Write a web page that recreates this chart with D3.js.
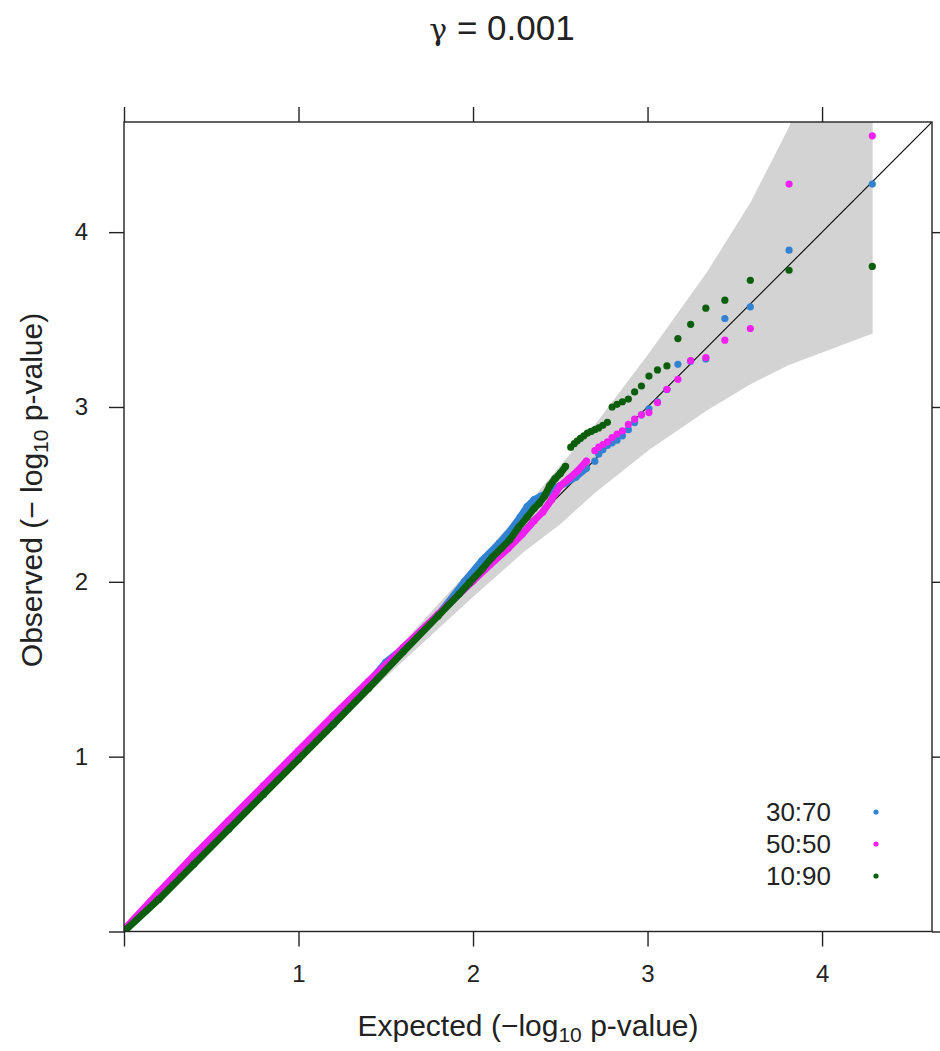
<!DOCTYPE html>
<html>
<head>
<meta charset="utf-8">
<script src="https://cdn.jsdelivr.net/npm/d3@7"></script>
<style>
  html, body { margin: 0; padding: 0; background: #fff; }
  svg { display: block; }
  text { font-family: "Liberation Sans", Arial, sans-serif; fill: #222; }
</style>
</head>
<body>
<svg id="chart" width="940" height="1051"></svg>
<script>
// ---------------- data ----------------
const titleText = "0.001";
const xTicks = [0, 1, 2, 3, 4];
const yTicks = [0, 1, 2, 3, 4];
const tickLabels = ["", "1", "2", "3", "4"];
const seriesNames = ["30:70", "50:50", "10:90"];
const seriesColors = ["#3282d2", "#f020f0", "#0b5e0b"];

// confidence band (expected, lower, upper)
const bandX     = [0, 0.5, 1.0, 1.5, 1.99, 2.29, 2.50, 2.70, 3.01, 3.34, 3.59, 3.81, 4.29];
const bandLower = [0, 0.485, 0.973, 1.455, 1.904, 2.17, 2.33, 2.51, 2.755, 2.98, 3.13, 3.24, 3.42];
const bandUpper = [0.004, 0.515, 1.027, 1.546, 2.077, 2.415, 2.665, 2.90, 3.31, 3.77, 4.17, 4.60, 5.89];

// 30:70 (expected, observed)
const s3070x = [0, 0.2, 0.4, 0.6, 0.8, 1.0, 1.2, 1.4, 1.5, 1.6, 1.8, 1.95, 2.05, 2.15, 2.22, 2.27, 2.31, 2.35, 2.39, 2.43, 2.48, 2.53, 2.59, 2.65,
                2.698, 2.72, 2.744, 2.770, 2.797, 2.825, 2.856, 2.890, 2.926, 2.965, 3.008, 3.057, 3.111, 3.174, 3.247, 3.334, 3.443, 3.589, 3.811, 4.288];
const s3070y = [0, 0.205, 0.405, 0.61, 0.81, 1.01, 1.215, 1.42, 1.54, 1.62, 1.81, 2.00, 2.12, 2.22, 2.30, 2.37, 2.43, 2.47, 2.49, 2.51, 2.54, 2.565, 2.60, 2.65,
                2.69, 2.73, 2.755, 2.78, 2.795, 2.81, 2.835, 2.87, 2.911, 2.955, 2.99, 3.03, 3.10, 3.244, 3.262, 3.275, 3.506, 3.573, 3.897, 4.275];

// 50:50
const s5050x = [0, 0.2, 0.4, 0.6, 0.8, 1.0, 1.2, 1.4, 1.6, 1.8, 2.0, 2.1, 2.2, 2.28, 2.35, 2.40, 2.45, 2.50, 2.55, 2.60, 2.65,
                2.698, 2.72, 2.744, 2.770, 2.797, 2.825, 2.856, 2.890, 2.926, 2.965, 3.008, 3.057, 3.111, 3.174, 3.247, 3.334, 3.443, 3.589, 3.811, 4.288];
const s5050y = [0.01, 0.225, 0.435, 0.635, 0.835, 1.035, 1.235, 1.43, 1.625, 1.815, 2.005, 2.10, 2.19, 2.27, 2.35, 2.40, 2.47, 2.55, 2.59, 2.635, 2.69,
                2.75, 2.77, 2.785, 2.80, 2.825, 2.845, 2.863, 2.90, 2.93, 2.955, 2.968, 3.025, 3.101, 3.158, 3.265, 3.283, 3.382, 3.449, 4.275, 4.551];

// 10:90
const s1090x = [0, 0.2, 0.4, 0.6, 0.8, 1.0, 1.2, 1.4, 1.6, 1.8, 1.92, 1.98, 2.05, 2.11, 2.16, 2.21, 2.26, 2.31, 2.35, 2.38, 2.41, 2.44, 2.47, 2.50, 2.53,
                2.56, 2.58, 2.597, 2.615, 2.635, 2.655, 2.676,
                2.698, 2.72, 2.744, 2.770, 2.797, 2.825, 2.856, 2.890, 2.926, 2.965, 3.008, 3.057, 3.111, 3.174, 3.247, 3.334, 3.443, 3.589, 3.811, 4.288];
const s1090y = [0, 0.185, 0.385, 0.585, 0.785, 0.985, 1.185, 1.39, 1.60, 1.805, 1.93, 1.995, 2.07, 2.14, 2.19, 2.24, 2.31, 2.37, 2.42, 2.45, 2.49, 2.55, 2.59, 2.62, 2.66,
                2.77, 2.79, 2.805, 2.82, 2.835, 2.85, 2.86,
                2.87, 2.88, 2.895, 2.912, 3.00, 3.015, 3.03, 3.045, 3.086, 3.12, 3.177, 3.212, 3.235, 3.391, 3.473, 3.565, 3.611, 3.725, 3.782, 3.804];

// dense run limit (expected value up to which points merge into a band)
const denseLimit = [2.66, 2.66, 2.54];

// ---------------- chart ----------------
const svg = d3.select("#chart");
const W = 940, H = 1051;
const padL = 124, padR = 932, padT = 122, padB = 931.5;
const dom = 4.63;
const x = d3.scaleLinear().domain([0, dom]).range([padL, padR]);
const y = d3.scaleLinear().domain([0, dom]).range([padB, padT]);

svg.append("rect").attr("width", W).attr("height", H).attr("fill", "#fff");

svg.append("defs").append("clipPath").attr("id", "clip")
  .append("rect").attr("x", padL).attr("y", padT).attr("width", padR - padL).attr("height", padB - padT);

const panel = svg.append("g").attr("clip-path", "url(#clip)");

// band polygon
const bandPts = bandX.map((v, i) => [x(v), y(bandUpper[i])])
  .concat(bandX.map((v, i) => [x(v), y(bandLower[i])]).reverse());
panel.append("path")
  .attr("d", d3.line()(bandPts) + "Z")
  .attr("fill", "#d3d3d3")
  .attr("stroke", "none");

// diagonal reference line
panel.append("line")
  .attr("x1", x(0)).attr("y1", y(0))
  .attr("x2", x(dom)).attr("y2", y(dom))
  .attr("stroke", "#000").attr("stroke-width", 1.1);

// series
const series = [
  {xs: s3070x, ys: s3070y},
  {xs: s5050x, ys: s5050y},
  {xs: s1090x, ys: s1090y}
];
series.forEach((s, k) => {
  const pts = s.xs.map((v, i) => [v, s.ys[i]]);
  const dense = pts.filter(p => p[0] <= denseLimit[k]);
  panel.append("path")
    .attr("d", d3.line().x(p => x(p[0])).y(p => y(p[1]))(dense))
    .attr("fill", "none")
    .attr("stroke", seriesColors[k])
    .attr("stroke-width", 7)
    .attr("stroke-linecap", "round")
    .attr("stroke-linejoin", "round");
  panel.selectAll(null).data(pts).enter().append("circle")
    .attr("cx", p => x(p[0])).attr("cy", p => y(p[1]))
    .attr("r", 3.6)
    .attr("fill", seriesColors[k]);
});

// frame
svg.append("rect")
  .attr("x", padL).attr("y", padT).attr("width", padR - padL).attr("height", padB - padT)
  .attr("fill", "none").attr("stroke", "#222").attr("stroke-width", 1.4);

const tickLen = 15;
function styleAxis(g) {
  g.select(".domain").remove();
  g.selectAll(".tick line").attr("stroke", "#222").attr("stroke-width", 1.4);
  g.selectAll(".tick text").attr("font-size", 24).attr("fill", "#222")
    .attr("font-family", "Liberation Sans, Arial, sans-serif");
}
svg.append("g").attr("transform", `translate(0,${padB})`)
  .call(d3.axisBottom(x).tickValues(xTicks).tickSize(tickLen).tickPadding(18).tickFormat((d, i) => tickLabels[i]))
  .call(styleAxis);
svg.append("g").attr("transform", `translate(0,${padT})`)
  .call(d3.axisTop(x).tickValues(xTicks).tickSize(tickLen).tickFormat(""))
  .call(styleAxis);
svg.append("g").attr("transform", `translate(${padL},0)`)
  .call(d3.axisLeft(y).tickValues(yTicks).tickSize(tickLen).tickPadding(21).tickFormat((d, i) => tickLabels[i]))
  .call(styleAxis);
svg.append("g").attr("transform", `translate(${padR},0)`)
  .call(d3.axisRight(y).tickValues(yTicks).tickSize(tickLen).tickFormat(""))
  .call(styleAxis);

// title
const title = svg.append("text").attr("x", 502).attr("y", 40).attr("text-anchor", "middle").attr("font-size", 35);
title.append("tspan").attr("font-family", "DejaVu Serif, serif").attr("font-size", 30).text("γ");
title.append("tspan").text(" = " + titleText);

// x axis title
const xl = svg.append("text").attr("x", 528).attr("y", 1036).attr("text-anchor", "middle").attr("font-size", 30);
xl.append("tspan").text("Expected (\u2212log");
xl.append("tspan").attr("font-size", 21).attr("dy", 6).text("10");
xl.append("tspan").attr("dy", -6).text(" p-value)");

// y axis title
const yl = svg.append("text").attr("transform", "translate(42,490) rotate(-90)").attr("text-anchor", "middle").attr("font-size", 30);
yl.append("tspan").text("Observed (\u2212 log");
yl.append("tspan").attr("font-size", 21).attr("dy", 6).text("10");
yl.append("tspan").attr("dy", -6).text(" p-value)");

// legend
const legRows = [812, 844, 876];
seriesNames.forEach((n, i) => {
  svg.append("text").attr("x", 831).attr("y", legRows[i]).attr("dy", "0.35em")
    .attr("text-anchor", "end").attr("font-size", 26).text(n);
  svg.append("circle").attr("cx", 876).attr("cy", legRows[i]).attr("r", 2.6).attr("fill", seriesColors[i]);
});
</script>
</body>
</html>
